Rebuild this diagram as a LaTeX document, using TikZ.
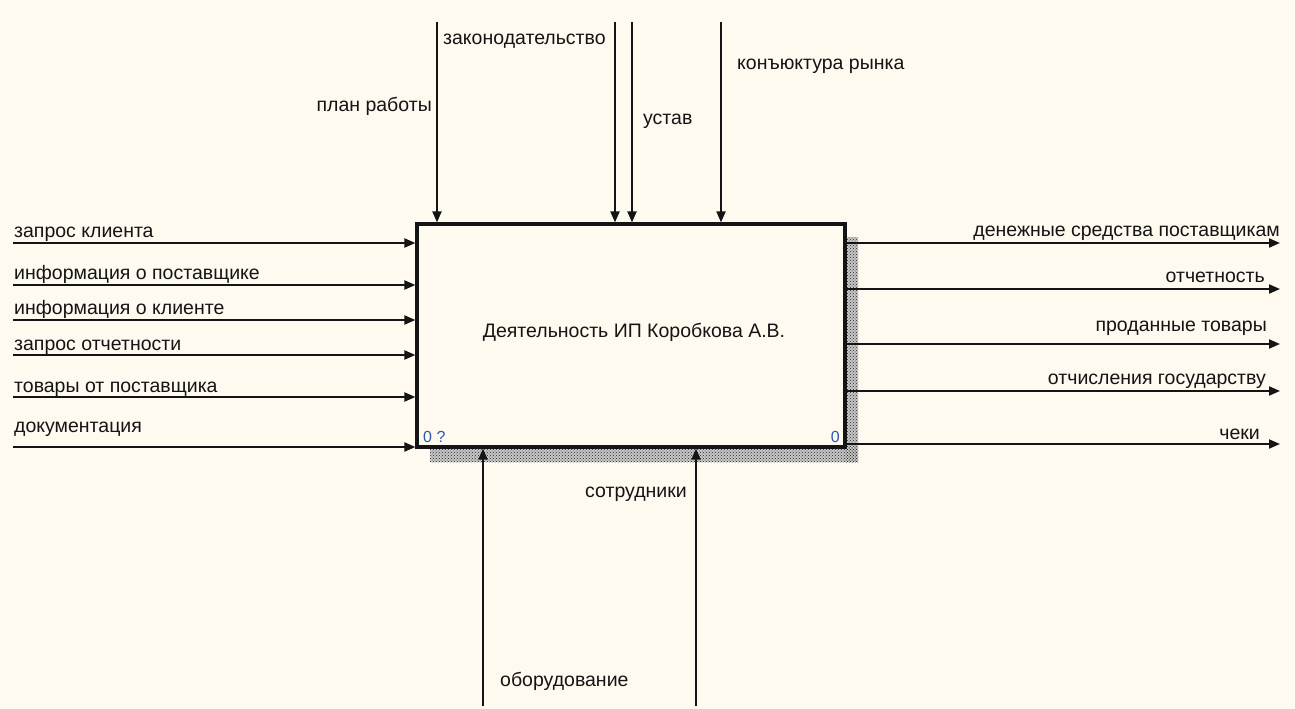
\documentclass[tikz,border=0pt]{standalone}
\usepackage{fontspec}
\setmainfont{Liberation Sans}
\usetikzlibrary{arrows.meta,patterns}
\definecolor{paper}{HTML}{FFFAF0}
\definecolor{ink}{HTML}{141414}
\definecolor{numblue}{HTML}{2A5AB0}

\begin{document}
\begin{tikzpicture}[x=1pt,y=-1pt,
  flow/.style={line width=2pt, draw=ink, -{Triangle[length=11pt,width=9pt]}},
  lbl/.style={font=\fontsize{19.5}{22}\selectfont, inner sep=0pt, text=ink},
  num/.style={font=\fontsize{16}{18}\selectfont, inner sep=0pt, text=numblue},
  shadowtone/.style={fill=black!22},
  shadowdots/.style={pattern=crosshatch dots, pattern color=black!85}]

% canvas
\fill[paper] (0,0) rectangle (1295,709);
\useasboundingbox (0,0) rectangle (1295,709);

% dotted drop shadow of the activity box
\fill[shadowtone] (845,237) rectangle (858,462);
\fill[shadowtone] (430,447) rectangle (858,462);
\fill[shadowdots] (845,237) rectangle (858,462);
\fill[shadowdots] (430,447) rectangle (858,462);

% activity box
\node[draw=ink, line width=3.2pt, fill=paper, minimum width=428pt, minimum height=223pt,
      inner sep=0pt] (A0) at (631,335.5) {};
\node[lbl, anchor=base] (title) at (634,337) {Деятельность ИП Коробкова А.В.};
\node[num, anchor=base west] (nodeno) at (423,442) {0 ?};
\node[num, anchor=base east] (diagno) at (840,442) {0};

% inputs
\coordinate (i1) at (13,243);
\coordinate (i2) at (13,285);
\coordinate (i3) at (13,320);
\coordinate (i4) at (13,355);
\coordinate (i5) at (13,397);
\coordinate (i6) at (13,447);
\foreach \c in {i1,i2,i3,i4,i5,i6}
  \draw[flow] (\c) -- (\c -| A0.west);
\node[lbl, anchor=base west] (li1) at (14,237) {запрос клиента};
\node[lbl, anchor=base west] (li2) at (14,279) {информация о поставщике};
\node[lbl, anchor=base west] (li3) at (14,314) {информация о клиенте};
\node[lbl, anchor=base west] (li4) at (14,350) {запрос отчетности};
\node[lbl, anchor=base west] (li5) at (14,392) {товары от поставщика};
\node[lbl, anchor=base west] (li6) at (14,432) {документация};

% controls
\coordinate (c1) at (437,22);
\coordinate (c2) at (615,22);
\coordinate (c3) at (632,22);
\coordinate (c4) at (721,22);
\foreach \c in {c1,c2,c3,c4}
  \draw[flow] (\c) -- (\c |- A0.north);
\node[lbl, anchor=base east] (lc1) at (432,111.5) {план работы};
\node[lbl, anchor=base west] (lc2) at (443,45) {законодательство};
\node[lbl, anchor=base west] (lc3) at (643,124) {устав};
\node[lbl, anchor=base west] (lc4) at (737,70) {конъюктура рынка};

% outputs
\coordinate (o1) at (1280,243);
\coordinate (o2) at (1280,289);
\coordinate (o3) at (1280,344);
\coordinate (o4) at (1280,391);
\coordinate (o5) at (1280,444);
\foreach \c in {o1,o2,o3,o4,o5}
  \draw[flow] (\c -| A0.east) -- (\c);
\node[lbl, anchor=base east] (lo1) at (1280,236.5) {денежные средства поставщикам};
\node[lbl, anchor=base east] (lo2) at (1265,282.5) {отчетность};
\node[lbl, anchor=base east] (lo3) at (1267,331.5) {проданные товары};
\node[lbl, anchor=base east] (lo4) at (1266,384.5) {отчисления государству};
\node[lbl, anchor=base east] (lo5) at (1260,439.5) {чеки};

% mechanisms
\coordinate (m1) at (483,706);
\coordinate (m2) at (696,706);
\foreach \c in {m1,m2}
  \draw[flow] (\c) -- (\c |- A0.south);
\node[lbl, anchor=base west] (lm1) at (500,686) {оборудование};
\node[lbl, anchor=base west] (lm2) at (585,497) {сотрудники};
\end{tikzpicture}
\end{document}
